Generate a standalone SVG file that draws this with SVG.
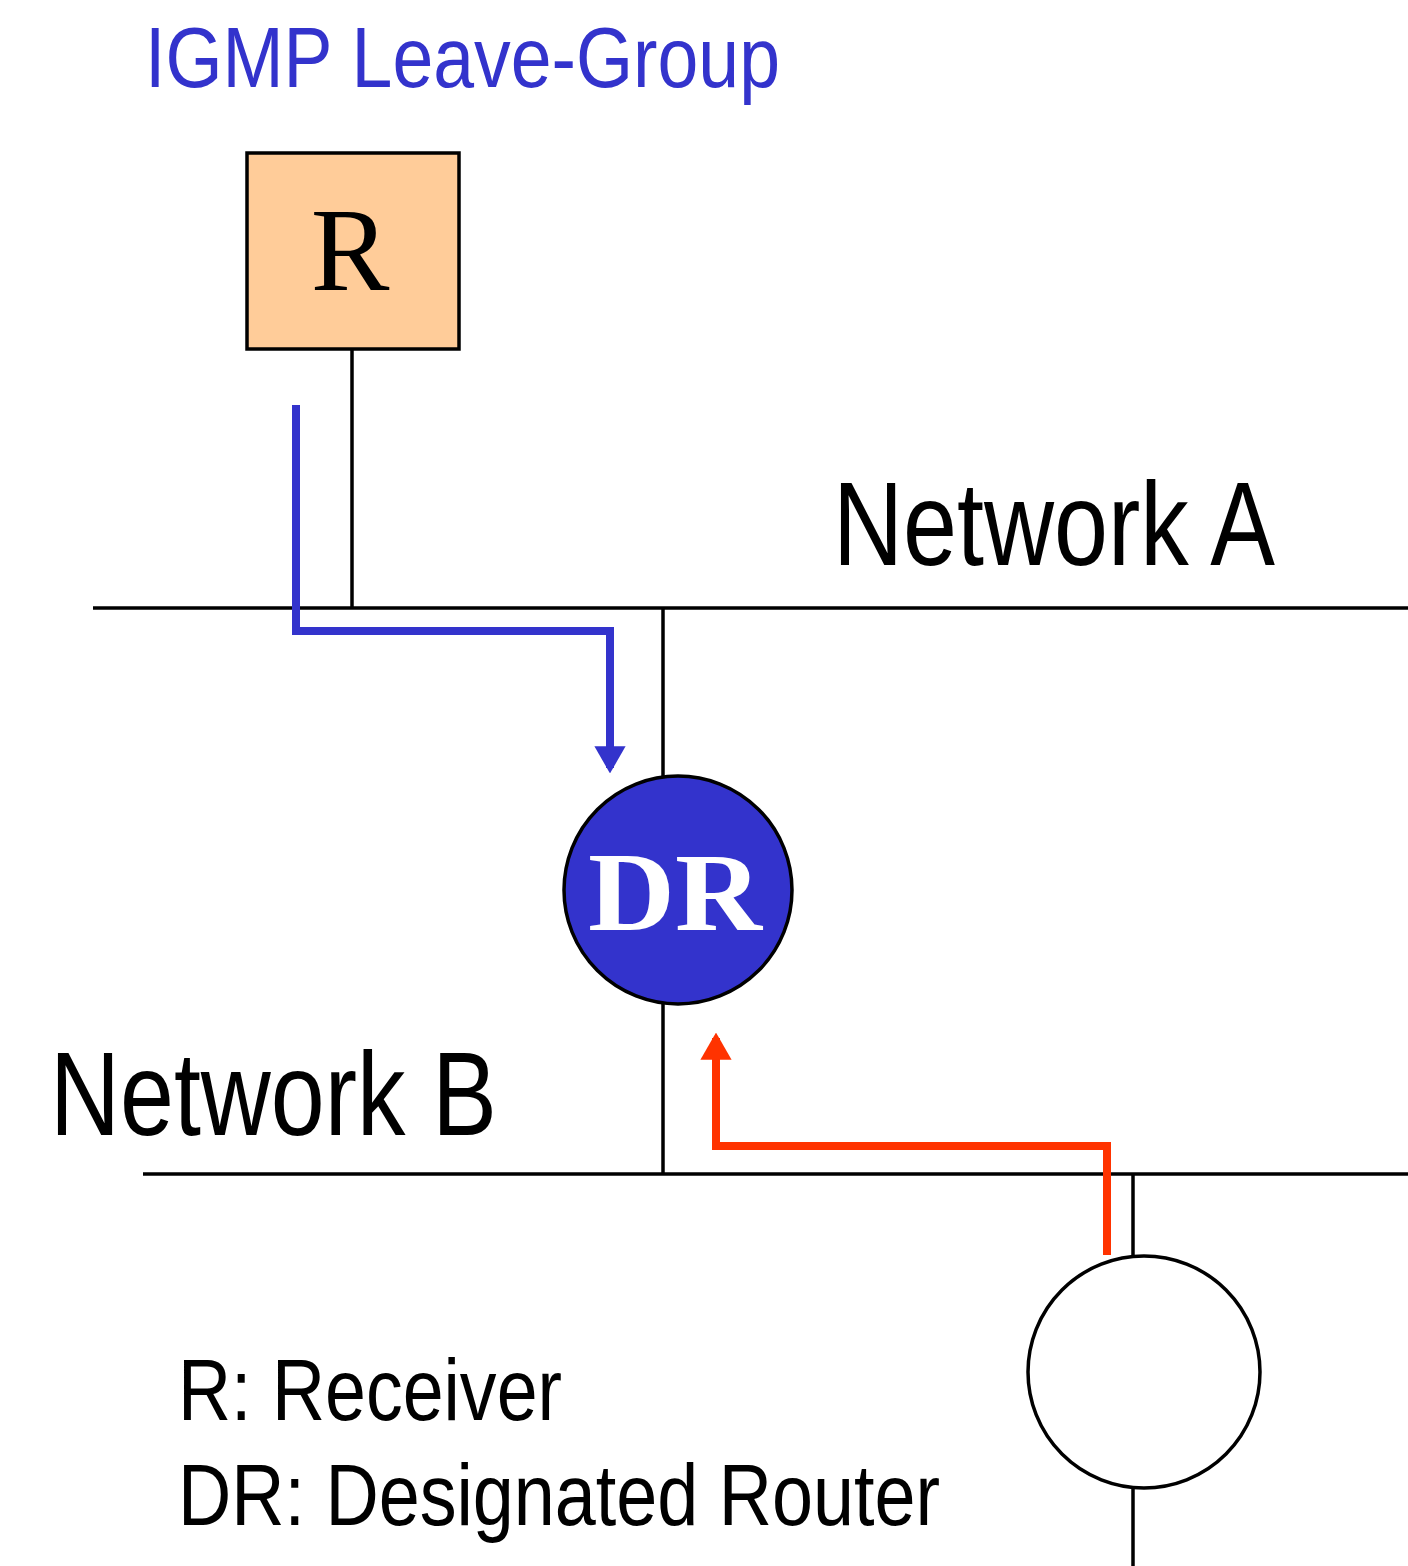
<svg xmlns="http://www.w3.org/2000/svg" width="1408" height="1566" viewBox="0 0 1408 1566">
<style>
.line{stroke:#000;stroke-width:3.5;fill:none}
.sans{font-family:"Liberation Sans",Arial,sans-serif}
.serif{font-family:"Liberation Serif","Times New Roman",serif}
</style>
<defs>
<marker id="ab" viewBox="0 0 10 10" refX="8" refY="5" markerWidth="3.4" markerHeight="3.9" markerUnits="strokeWidth" orient="auto" preserveAspectRatio="none"><path d="M0,0 L10,5 L0,10 Z" fill="#3333CC"/></marker>
<marker id="ar" viewBox="0 0 10 10" refX="8" refY="5" markerWidth="3.4" markerHeight="3.9" markerUnits="strokeWidth" orient="auto" preserveAspectRatio="none"><path d="M0,0 L10,5 L0,10 Z" fill="#FF3300"/></marker>
</defs>
<rect width="1408" height="1566" fill="#fff"/>
<g id="networks">
<line class="line" x1="93" y1="608" x2="1408" y2="608"/>
<line class="line" x1="143" y1="1174" x2="1408" y2="1174"/>
<line class="line" x1="352" y1="349" x2="352" y2="608"/>
<line class="line" x1="663" y1="608" x2="663" y2="778"/>
<line class="line" x1="663" y1="1003" x2="663" y2="1174"/>
<line class="line" x1="1133" y1="1174" x2="1133" y2="1257"/>
<line class="line" x1="1133" y1="1488" x2="1133" y2="1566"/>
</g>
<g id="connectors">
<path d="M296,405 V631 H610 V768" stroke="#3333CC" stroke-width="8" fill="none" marker-end="url(#ab)"/>
<path d="M1107,1255 V1146 H716 V1038" stroke="#FF3300" stroke-width="8" fill="none" marker-end="url(#ar)"/>
</g>
<g id="title"><text class="sans" x="145" y="87" font-size="86" fill="#3333CC" textLength="635" lengthAdjust="spacingAndGlyphs">IGMP Leave-Group</text></g>
<g id="receiver">
<rect x="247" y="153" width="212" height="196" fill="#FFCC99" stroke="#000" stroke-width="3.5"/>
<text class="serif" x="350" y="290" font-size="118" text-anchor="middle">R</text>
</g>
<g id="dr">
<circle cx="678" cy="890" r="114" fill="#3333CC" stroke="#000" stroke-width="3.5"/>
<text class="serif" x="675" y="930" font-size="112" font-weight="bold" fill="#fff" text-anchor="middle" textLength="174" lengthAdjust="spacingAndGlyphs">DR</text>
</g>
<g id="router">
<circle cx="1144" cy="1372" r="116" fill="#fff" stroke="#000" stroke-width="3.5"/>
</g>
<g id="labels">
<text class="sans" x="833" y="565" font-size="118" textLength="442" lengthAdjust="spacingAndGlyphs">Network A</text>
<text class="sans" x="50" y="1135" font-size="118" textLength="447" lengthAdjust="spacingAndGlyphs">Network B</text>
<text class="sans" x="178" y="1420" font-size="87" textLength="384" lengthAdjust="spacingAndGlyphs">R: Receiver</text>
<text class="sans" x="178" y="1525" font-size="87" textLength="762" lengthAdjust="spacingAndGlyphs">DR: Designated Router</text>
</g>
</svg>
